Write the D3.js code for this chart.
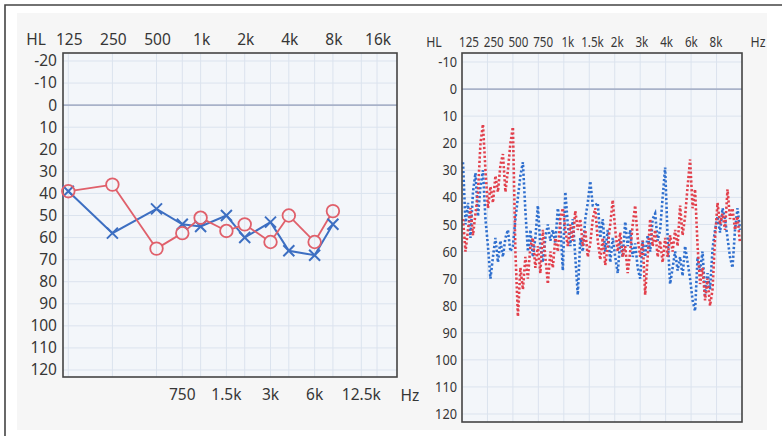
<!DOCTYPE html>
<html>
<head>
<meta charset="utf-8">
<script src="https://cdn.jsdelivr.net/npm/d3@7"></script>
<style>
  body { margin: 0; background: #fff; }
  svg { display: block; font-family: "Noto Sans", sans-serif; }
</style>
</head>
<body>
<div id="chart"></div>
<script>
// Pure tone audiogram (left panel)
const freqs = [125, 250, 500, 750, 1000, 1500, 2000, 3000, 4000, 6000, 8000];
const rightEar = [39, 36, 65, 58, 51, 57, 54, 62, 50, 62, 48];
const leftEar = [39, 58, 47, 54, 55, 50, 60, 53, 66, 68, 54];
const gridFreqs = [125, 250, 500, 750, 1000, 1500, 2000, 3000, 4000, 6000, 8000, 12500, 16000];
const topTicks = [125, 250, 500, 1000, 2000, 4000, 8000, 16000];
const topLabels = ['125', '250', '500', '1k', '2k', '4k', '8k', '16k'];
const bottomTicks = [750, 1500, 3000, 6000, 12500];
const bottomLabels = ['750', '1.5k', '3k', '6k', '12.5k'];
const leftDb = d3.range(-20, 121, 10);

// Sweep audiogram (right panel)
const sweepLabels = ['125', '250', '500', '750', '1k', '1.5k', '2k', '3k', '4k', '6k', '8k'];
const rightDb = d3.range(-10, 121, 10);
const sweepRed = [
  48, 60, 52, 44, 54, 46, 38, 20, 13, 30,
  44, 36, 42, 32, 38, 28, 24, 38, 30, 20,
  14, 60, 84, 66, 74, 62, 70, 58, 55, 66,
  58, 68, 52, 62, 72, 60, 66, 55, 60, 48,
  44, 52, 58, 50, 56, 45, 52, 48, 58, 52,
  62, 57, 48, 44, 56, 63, 55, 65, 58, 50,
  41, 52, 60, 53, 62, 58, 68, 60, 50, 43,
  55, 62, 56, 76, 62, 48, 58, 52, 62, 56,
  64, 55, 62, 54, 60, 52, 58, 43, 54, 47,
  36, 26, 44, 37, 58, 72, 66, 78, 70, 80,
  74, 55, 42, 50, 46, 52, 37, 48, 44, 52,
  47, 57
];
const sweepBlue = [
  27, 50, 42, 55, 38, 31, 47, 36, 30, 48,
  58, 70, 62, 55, 64, 56, 62, 55, 52, 60,
  58, 48, 40, 32, 27, 45, 60, 52, 62, 55,
  43, 58, 64, 55, 50, 56, 52, 57, 44, 50,
  67, 38, 50, 58, 48, 62, 76, 55, 60, 48,
  42, 34, 43, 43, 42, 55, 48, 60, 52, 64,
  55, 62, 68, 56, 62, 49, 58, 52, 62, 57,
  66, 70, 56, 62, 54, 60, 48, 46, 56, 52,
  40, 29, 55, 72, 66, 60, 67, 62, 69, 58,
  64, 70, 78, 82, 62, 67, 60, 76, 68, 74,
  59, 52, 47, 53, 44, 48, 55, 62, 66, 52,
  44, 52
];

const width = 782, height = 436;
const textColor = '#363636';
const gridColor = '#dbe3ee';
const zeroColor = '#a8b2c9';
const plotFill = '#f3f6fa';
const frameColor = '#444';

const svg = d3.select('#chart').append('svg')
  .attr('width', width)
  .attr('height', height);

// scanned sheet and its border
svg.append('rect').attr('x', 17).attr('y', 13).attr('width', 750).attr('height', 417).attr('fill', '#f6f6f6');
svg.append('path').attr('d', `M5,${height} V5 H${width}`).attr('fill', 'none')
  .attr('stroke', '#444').attr('stroke-width', 1.6);

// ---------- left panel ----------
const L = { x0: 63, x1: 397, y0: 53, y1: 377 };
const x = d3.scaleLog().base(2).domain([115, 21900]).range([L.x0, L.x1]);
const y = d3.scaleLinear().domain([-20, 120]).range([61, 370]);

const left = svg.append('g');
left.append('rect').attr('x', L.x0).attr('y', L.y0).attr('width', L.x1 - L.x0).attr('height', L.y1 - L.y0)
  .attr('fill', plotFill);

left.append('g').selectAll('line')
  .data(gridFreqs)
  .join('line')
    .attr('x1', (d) => x(d)).attr('x2', (d) => x(d))
    .attr('y1', L.y0).attr('y2', L.y1)
    .attr('stroke', gridColor).attr('stroke-width', 1);

left.append('g').selectAll('line')
  .data(leftDb)
  .join('line')
    .attr('x1', L.x0).attr('x2', L.x1)
    .attr('y1', (d) => y(d)).attr('y2', (d) => y(d))
    .attr('stroke', (d) => d == 0 ? zeroColor : gridColor)
    .attr('stroke-width', (d) => d == 0 ? 1.6 : 1);

left.append('rect').attr('x', L.x0).attr('y', L.y0).attr('width', L.x1 - L.x0).attr('height', L.y1 - L.y0)
  .attr('fill', 'none').attr('stroke', frameColor).attr('stroke-width', 1.6);

left.append('g').selectAll('text')
  .data(leftDb)
  .join('text')
    .attr('x', L.x0 - 6).attr('y', (d) => y(d)).attr('dy', '0.35em')
    .attr('text-anchor', 'end').attr('font-size', 15.5).attr('fill', textColor)
    .text((d) => d);

left.append('text').attr('x', 36).attr('y', 45).attr('text-anchor', 'middle')
  .attr('font-size', 15.5).attr('fill', textColor).text('HL');

left.append('g').selectAll('text')
  .data(topTicks)
  .join('text')
    .attr('x', (d) => x(d) + 1).attr('y', 45)
    .attr('text-anchor', 'middle').attr('font-size', 15.5).attr('fill', textColor)
    .text((d, i) => topLabels[i]);

left.append('g').selectAll('text')
  .data(bottomTicks)
  .join('text')
    .attr('x', (d) => x(d)).attr('y', 400)
    .attr('text-anchor', 'middle').attr('font-size', 15.5).attr('fill', textColor)
    .text((d, i) => bottomLabels[i]);

left.append('text').attr('x', 410).attr('y', 401).attr('text-anchor', 'middle')
  .attr('font-size', 15.5).attr('fill', textColor).text('Hz');

// right ear: circles with line segments between their edges
const red = '#e0606b', blue = '#3d6fc2';
const r = 6.3;
const redPts = freqs.map((f, i) => [x(f), y(rightEar[i])]);
const bluePts = freqs.map((f, i) => [x(f), y(leftEar[i])]);

left.append('path')
  .attr('d', d3.line()(bluePts))
  .attr('fill', 'none').attr('stroke', blue).attr('stroke-width', 2);

const segs = d3.pairs(redPts).map(([a, b]) => {
  const dx = b[0] - a[0], dy = b[1] - a[1], len = Math.hypot(dx, dy);
  const ux = dx / len, uy = dy / len;
  return [[a[0] + ux * r, a[1] + uy * r], [b[0] - ux * r, b[1] - uy * r]];
});
left.append('g').selectAll('path')
  .data(segs)
  .join('path')
    .attr('d', (d) => d3.line()(d))
    .attr('stroke', red).attr('stroke-width', 1.8);

const s = 5.5;
left.append('g').selectAll('path')
  .data(bluePts)
  .join('path')
    .attr('d', (d) => `M${d[0] - s},${d[1] - s}L${d[0] + s},${d[1] + s}M${d[0] - s},${d[1] + s}L${d[0] + s},${d[1] - s}`)
    .attr('stroke', blue).attr('stroke-width', 2).attr('fill', 'none');

left.append('g').selectAll('circle')
  .data(redPts)
  .join('circle')
    .attr('cx', (d) => d[0]).attr('cy', (d) => d[1]).attr('r', r)
    .attr('fill', 'none').attr('stroke', red).attr('stroke-width', 1.8);

// ---------- right panel ----------
const R = { x0: 462, x1: 742, y0: 53, y1: 422 };
const cols = d3.scaleBand().domain(sweepLabels).range([R.x0, R.x1]);
const labelX = d3.scalePoint().domain(sweepLabels).range([469, 716]);
const y2 = d3.scaleLinear().domain([-10, 120]).range([62, 414]);
const sx = d3.scaleLinear().domain([0, sweepRed.length - 1]).range([R.x0 + 1, R.x1 - 2]);

const right = svg.append('g');
right.append('rect').attr('x', R.x0).attr('y', R.y0).attr('width', R.x1 - R.x0).attr('height', R.y1 - R.y0)
  .attr('fill', plotFill);

right.append('g').selectAll('line')
  .data(sweepLabels.slice(1))
  .join('line')
    .attr('x1', (d) => cols(d)).attr('x2', (d) => cols(d))
    .attr('y1', R.y0).attr('y2', R.y1)
    .attr('stroke', gridColor).attr('stroke-width', 1);

right.append('g').selectAll('line')
  .data(rightDb)
  .join('line')
    .attr('x1', R.x0).attr('x2', R.x1)
    .attr('y1', (d) => y2(d)).attr('y2', (d) => y2(d))
    .attr('stroke', (d) => d == 0 ? zeroColor : gridColor)
    .attr('stroke-width', (d) => d == 0 ? 1.6 : 1);

const sweepLine = d3.line().x((d, i) => sx(i)).y((d) => y2(d));
right.append('path').datum(sweepBlue)
  .attr('d', sweepLine)
  .attr('fill', 'none').attr('stroke', '#2f6fce').attr('stroke-width', 2.6)
  .attr('stroke-dasharray', '2.2,2.2');
right.append('path').datum(sweepRed)
  .attr('d', sweepLine)
  .attr('fill', 'none').attr('stroke', '#e2404c').attr('stroke-width', 2.6)
  .attr('stroke-dasharray', '2.2,2.2');

right.append('rect').attr('x', R.x0).attr('y', R.y0).attr('width', R.x1 - R.x0).attr('height', R.y1 - R.y0)
  .attr('fill', 'none').attr('stroke', frameColor).attr('stroke-width', 1.6);

right.append('g').selectAll('text')
  .data(rightDb)
  .join('text')
    .attr('transform', (d) => `translate(${R.x0 - 5},${y2(d)}) scale(0.88,1)`)
    .attr('dy', '0.35em')
    .attr('text-anchor', 'end').attr('font-size', 14.5).attr('fill', textColor)
    .text((d) => d);

right.append('g').selectAll('text')
  .data(sweepLabels)
  .join('text')
    .attr('transform', (d) => `translate(${labelX(d)},47) scale(0.8,1)`)
    .attr('text-anchor', 'middle').attr('font-size', 14.5).attr('fill', textColor)
    .text((d) => d);

right.append('text').attr('transform', 'translate(434,47) scale(0.85,1)').attr('text-anchor', 'middle')
  .attr('font-size', 14.5).attr('fill', textColor).text('HL');
right.append('text').attr('transform', 'translate(758,47) scale(0.85,1)').attr('text-anchor', 'middle')
  .attr('font-size', 14.5).attr('fill', textColor).text('Hz');
</script>
</body>
</html>
